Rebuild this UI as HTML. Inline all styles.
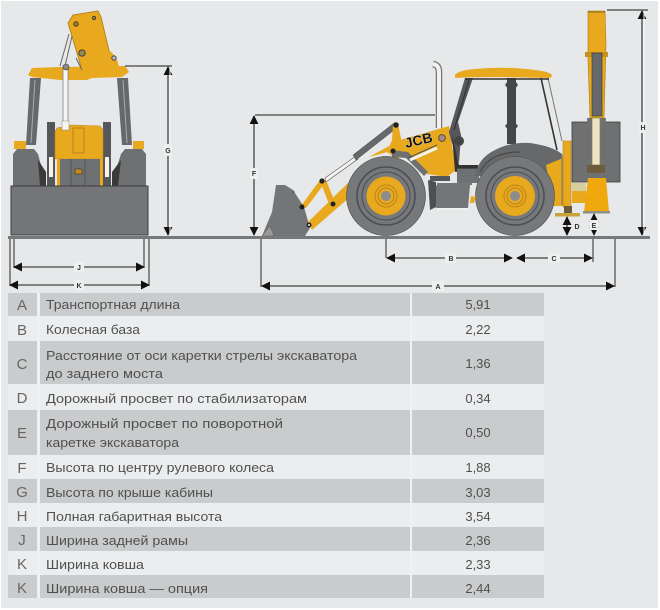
<!DOCTYPE html>
<html><head><meta charset="utf-8"><style>
html,body{margin:0;padding:0;background:#fff}
svg{display:block;filter:blur(.35px)}
text{font-family:"Liberation Sans",sans-serif}
.t{font-size:13px;fill:#505050}
.v{font-size:13px;fill:#505050;text-anchor:middle}
.l{font-size:15px;fill:#666;text-anchor:middle}
.d{font-size:7px;font-weight:bold;fill:#333;text-anchor:middle}
.dim{stroke:#444;stroke-width:1.3;fill:none}
.halo{fill:#eef0f0}
</style></head><body>
<svg width="660" height="610" viewBox="0 0 660 610" xmlns="http://www.w3.org/2000/svg">
<defs>
<marker id="a" viewBox="0 0 10 10" refX="9" refY="5" markerWidth="9" markerHeight="9" orient="auto-start-reverse" markerUnits="userSpaceOnUse"><path d="M0 0L10 5L0 10Z" fill="#111"/></marker>
</defs>
<rect x="1" y="1" width="657" height="607" fill="#e6e8e9"/>

<!-- table -->
<g fill="#ebedee">
<rect x="8" y="316" width="536" height="25"/><rect x="8" y="384" width="536" height="26"/><rect x="8" y="455" width="536" height="24"/><rect x="8" y="503" width="536" height="24"/><rect x="8" y="551" width="536" height="24"/>
</g>
<g fill="#c9cbcc">
<rect x="8" y="293" width="29" height="23"/><rect x="40" y="293" width="370" height="23"/><rect x="412" y="293" width="132" height="23"/>
<rect x="8" y="341" width="29" height="43"/><rect x="40" y="341" width="370" height="43"/><rect x="412" y="341" width="132" height="43"/>
<rect x="8" y="410" width="29" height="45"/><rect x="40" y="410" width="370" height="45"/><rect x="412" y="410" width="132" height="45"/>
<rect x="8" y="479" width="29" height="24"/><rect x="40" y="479" width="370" height="24"/><rect x="412" y="479" width="132" height="24"/>
<rect x="8" y="527" width="29" height="24"/><rect x="40" y="527" width="370" height="24"/><rect x="412" y="527" width="132" height="24"/>
<rect x="8" y="575" width="29" height="23"/><rect x="40" y="575" width="370" height="23"/><rect x="412" y="575" width="132" height="23"/>
</g>
<g fill="#eef0f1">
<rect x="37" y="293" width="3" height="305"/><rect x="410" y="293" width="2" height="305"/>
</g>
<text class="l" x="22" y="310">A</text>
<text class="l" x="22" y="335">B</text>
<text class="l" x="22" y="369">C</text>
<text class="l" x="22" y="403">D</text>
<text class="l" x="22" y="438">E</text>
<text class="l" x="22" y="473">F</text>
<text class="l" x="22" y="497">G</text>
<text class="l" x="22" y="521">H</text>
<text class="l" x="22" y="545">J</text>
<text class="l" x="22" y="569">K</text>
<text class="l" x="22" y="593">K</text>

<text class="t" x="46" y="309" textLength="134" lengthAdjust="spacingAndGlyphs">Транспортная длина</text>
<text class="t" x="46" y="334" textLength="94" lengthAdjust="spacingAndGlyphs">Колесная база</text>
<text class="t" x="46" y="360" textLength="311" lengthAdjust="spacingAndGlyphs">Расстояние от оси каретки стрелы экскаватора</text>
<text class="t" x="46" y="378" textLength="117" lengthAdjust="spacingAndGlyphs">до заднего моста</text>
<text class="t" x="46" y="403" textLength="261" lengthAdjust="spacingAndGlyphs">Дорожный просвет по стабилизаторам</text>
<text class="t" x="46" y="428" textLength="237" lengthAdjust="spacingAndGlyphs">Дорожный просвет по поворотной</text>
<text class="t" x="46" y="447" textLength="133" lengthAdjust="spacingAndGlyphs">каретке экскаватора</text>
<text class="t" x="46" y="472" textLength="228" lengthAdjust="spacingAndGlyphs">Высота по центру рулевого колеса</text>
<text class="t" x="46" y="497" textLength="167" lengthAdjust="spacingAndGlyphs">Высота по крыше кабины</text>
<text class="t" x="46" y="521" textLength="176" lengthAdjust="spacingAndGlyphs">Полная габаритная высота</text>
<text class="t" x="46" y="545" textLength="142" lengthAdjust="spacingAndGlyphs">Ширина задней рамы</text>
<text class="t" x="46" y="569" textLength="98" lengthAdjust="spacingAndGlyphs">Ширина ковша</text>
<text class="t" x="46" y="593" textLength="162" lengthAdjust="spacingAndGlyphs">Ширина ковша — опция</text>

<text class="v" x="478" y="309">5,91</text>
<text class="v" x="478" y="334">2,22</text>
<text class="v" x="478" y="368">1,36</text>
<text class="v" x="478" y="403">0,34</text>
<text class="v" x="478" y="437">0,50</text>
<text class="v" x="478" y="472">1,88</text>
<text class="v" x="478" y="497">3,03</text>
<text class="v" x="478" y="521">3,54</text>
<text class="v" x="478" y="545">2,36</text>
<text class="v" x="478" y="569">2,33</text>
<text class="v" x="478" y="593">2,44</text>

<!-- rear view -->
<g>
<path d="M30 78L26 145L36 145L41 78Z" fill="#66686a"/>
<path d="M128 78L132 145L122 145L117 78Z" fill="#66686a"/>
<path d="M35 80L31 143M123 80L127 143" stroke="#aaa" stroke-width="1"/>
<rect x="14" y="141" width="12" height="8" fill="#e8a91f"/>
<rect x="133" y="141" width="11" height="8" fill="#e8a91f"/>
<path d="M13 154L17 149L34 149L38 154L44 176L44 186L13 186Z" fill="#6f7072"/>
<path d="M146 154L142 149L125 149L121 154L114 176L114 186L146 186Z" fill="#6f7072"/>
<path d="M38 160L46 172L46 186L40 186Z" fill="#3a3a3a"/>
<path d="M121 160L112 172L112 186L118 186Z" fill="#3a3a3a"/>
<rect x="47" y="122" width="8" height="64" fill="#55575a"/>
<rect x="103" y="122" width="8" height="64" fill="#55575a"/>
<rect x="49" y="157" width="4" height="20" fill="#f4f2ea"/>
<rect x="105" y="157" width="4" height="20" fill="#f4f2ea"/>
<path d="M57 128L72 125L100 126L103 130L103 159L55 159L55 132Z" fill="#e8a91f" stroke="#b9841a" stroke-width=".6"/>
<rect x="73" y="128" width="11" height="25" fill="none" stroke="#b9841a"/>
<rect x="60" y="159" width="40" height="27" fill="#6f7072"/>
<rect x="57" y="159" width="3" height="27" fill="#e8a91f"/>
<rect x="100" y="159" width="3" height="27" fill="#e8a91f"/>
<rect x="75" y="169" width="7" height="5" fill="#c48a1c" stroke="#333" stroke-width=".6"/>
<path d="M71 159V186M85 159V186" stroke="#555"/>
<path d="M68 23L73 15L98 11L101 17L113 67L82 70Z" fill="#e8a91f" stroke="#a97a16" stroke-width=".8"/>
<path d="M109 50L116 57L119 66L110 68Z" fill="#e8a91f"/>
<path d="M28 75L32 68L60 67L125 66L129 72L122 77L92 78L87 80L60 80L32 77Z" fill="#e8a91f"/>
<path d="M69 34L60 66M72 36L65 66M76 58L82 70" stroke="#666" stroke-width="1" fill="none"/>
<rect x="63" y="66" width="5" height="60" fill="#f5f5f3" stroke="#777" stroke-width=".7"/>
<rect x="62" y="121" width="7" height="9" fill="#f5f5f3" stroke="#888" stroke-width=".5"/>
<circle cx="66" cy="67" r="3" fill="#888" stroke="#444" stroke-width=".6"/>
<circle cx="76" cy="24" r="2.3" fill="#9a7a25" stroke="#333" stroke-width=".8"/>
<circle cx="94" cy="18" r="1.8" fill="#9a7a25" stroke="#333" stroke-width=".8"/>
<circle cx="82" cy="53" r="3.2" fill="#9a8a55" stroke="#333" stroke-width=".9"/>
<circle cx="114" cy="58" r="2.2" fill="#bbb" stroke="#333" stroke-width=".8"/>
<rect x="11" y="186" width="137" height="49" fill="#747577" stroke="#3d3d3e" stroke-width="1"/>
</g>

<!-- side view: loader -->
<g>
<path d="M276 185L285 185L293 190L304 207L310 228L305 236L262 236L272 212Z" fill="#747577"/>
<path d="M262 236L270 226L274 236Z" fill="#9a9a9a" stroke="#555" stroke-width=".5"/>
<path d="M308 222L348 183L350 197L312 230Z" fill="#e8a91f"/>
<path d="M301 206L320 180L325 183L306 208Z" fill="#e8a91f"/>
<path d="M320 181L329 204L335 202L326 180Z" fill="#e8a91f"/>
<path d="M325 178L356 156L358 159L326 182Z" fill="#f2f2ef" stroke="#555" stroke-width=".6"/>
<path d="M353 155L394 123L398 127L356 160Z" fill="#66686a" stroke="#333" stroke-width=".4"/>
<path d="M393 123L398 124L403 148L398 160L387 152L392 140Z" fill="#e8a91f"/>
<path d="M369 157L400 140L449 126L456 170L447 177L427 174L412 156L395 150Z" fill="#e8a91f"/>
<path d="M392 150L408 152L428 172L424 176L406 158L392 157Z" fill="#6f7072"/>
<path d="M410 160L437 148" stroke="#f4f2ea" stroke-width="3"/>
<path d="M408 158L437 145" stroke="#555" stroke-width="1"/>
<circle cx="442" cy="138" r="3.4" fill="#a88" stroke="#553" stroke-width="1"/>
<g fill="#222"><circle cx="396" cy="125" r="2.8"/><circle cx="322" cy="181" r="2.6"/><circle cx="333" cy="204" r="2.5"/><circle cx="302" cy="207" r="2.5"/><circle cx="309" cy="225" r="2.5"/><circle cx="393" cy="151" r="2.5"/></g>
<circle cx="309" cy="225" r="1.1" fill="#ccd"/>
<circle cx="293" cy="192" r="1.5" fill="#666"/>
<text x="0" y="0" transform="translate(406 148) rotate(-13)" font-size="14" font-weight="bold" fill="#111" stroke="#fff" stroke-width=".5" style="font-family:'Liberation Sans',sans-serif;paint-order:stroke">JCB</text>
<path d="M437 185H470L468 208H437Q431 206 431 190Z" fill="#747577"/>
<path d="M437 209H468" stroke="#f4f4f4" stroke-width="1.5"/>
<path d="M437 184H472" stroke="#333" stroke-width="1.2"/>
<path d="M428 180L436 182L436 207L430 210Z" fill="#4e4f51"/>
<path d="M430 176H450V181H430Z" fill="#55575a"/>
<!-- front wheel -->
<circle cx="386" cy="196" r="39.5" fill="#77787a"/>
<circle cx="386" cy="196" r="39.5" fill="none" stroke="#555" stroke-width=".7"/>
<circle cx="386" cy="196" r="29" fill="none" stroke="#4c4d57" stroke-width="1.6"/>
<circle cx="386" cy="196" r="24" fill="none" stroke="#4c4d57" stroke-width="1"/>
<circle cx="386" cy="196" r="19.5" fill="#e8a91f"/>
<circle cx="386" cy="196" r="11" fill="none" stroke="#b9841a" stroke-width="1"/>
<circle cx="386" cy="196" r="8" fill="#e8a91f" stroke="#b9841a"/>
<circle cx="386" cy="196" r="5" fill="#8b8c8e"/>
</g>

<!-- exhaust -->
<path d="M439 128V72Q439 65 433 64" fill="none" stroke="#777" stroke-width="6.5"/>
<path d="M439 128V72Q439 65 433 64" fill="none" stroke="#f1f1ef" stroke-width="4"/>

<!-- cab -->
<g>
<path d="M465 78L473 78L458 122L461 135L459 163L451 140L449 132Z" fill="#55575a"/>
<path d="M469 80L454 130" stroke="#333" stroke-width="1.2"/>
<circle cx="459" cy="141" r="5" fill="#444"/>
<path d="M452 135L459 165L478 165L478 169L455 172Z" fill="#333"/>
<rect x="457" y="168" width="22" height="15" fill="#6f7072"/>
<path d="M456 168H478" stroke="#333" stroke-width="1.2"/>
<rect x="507" y="78" width="9" height="66" fill="#44464a"/>
<path d="M505 85L509 79H514L518 85L514 90H509Z" fill="#44464a"/>
<path d="M505 126L509 121H514L518 126L514 131H509Z" fill="#44464a"/>
<path d="M541 78L557 150" stroke="#333" stroke-width="1.6"/>
<path d="M548 78L562 141" stroke="#777" stroke-width="1"/>
<path d="M465 79H549" stroke="#333" stroke-width="1.5"/>
<path d="M455 75Q459 70 475 69Q503 66 535 70Q552 72 552 76L550 78L500 77Q470 77 455 78Z" fill="#e8a91f"/>
<!-- fender -->
<path d="M475 176Q478 158 495 150Q510 142 530 143Q552 146 562 154L562 165L548 176Z" fill="#66686a"/>
<path d="M480 172Q490 152 520 152" stroke="#444" stroke-width="1" fill="none"/>
<!-- rear structures -->
<path d="M546 165L563 158L563 206L553 206Z" fill="#e8a91f"/>
<path d="M562 155V205" stroke="#777"/>
<rect x="572" y="183" width="14" height="20" fill="#e8a91f"/>
<circle cx="515" cy="196" r="39.5" fill="#77787a"/>
<circle cx="515" cy="196" r="39.5" fill="none" stroke="#555" stroke-width=".7"/>
<circle cx="515" cy="196" r="29" fill="none" stroke="#4c4d57" stroke-width="1.6"/>
<circle cx="515" cy="196" r="24" fill="none" stroke="#4c4d57" stroke-width="1"/>
<circle cx="515" cy="196" r="20" fill="#e8a91f"/>
<circle cx="515" cy="196" r="11" fill="none" stroke="#b9841a"/>
<circle cx="515" cy="196" r="8" fill="#e8a91f" stroke="#b9841a"/>
<circle cx="515" cy="196" r="5" fill="#8b8c8e"/>
<path d="M471 196L476 197L474 203L470 203Z" fill="#e8a91f"/>
</g>

<!-- backhoe -->
<g>
<rect x="572" y="122" width="48" height="60" fill="#6f7072" stroke="#3d3d3e" stroke-width=".8"/>
<path d="M588 11H605L606 44L604 118H590L588 60Z" fill="#e8a91f" stroke="#a97a16" stroke-width=".6"/>
<path d="M588 12H605" stroke="#8a6a15" stroke-width="1"/>
<path d="M585 52H608V57H585Z" fill="#c98f1c"/>
<rect x="592" y="53" width="10" height="63" fill="#66686a" stroke="#333" stroke-width=".6"/>
<path d="M587 118L590 158L586 180H607L603 158L606 118Z" fill="#6f7072"/>
<rect x="592" y="118" width="8" height="47" fill="#ece4c4" stroke="#8a7a4a" stroke-width=".7"/>
<rect x="587" y="165" width="18" height="8" fill="#6b5d3c"/>
<path d="M588 178H606L609 212H584Z" fill="#f0a80f"/>
<rect x="583" y="211" width="27" height="2.5" fill="#8f8f88"/>
<rect x="563" y="141" width="8" height="66" fill="#e8a91f" stroke="#a97a16" stroke-width=".5"/>
<rect x="564" y="206" width="8" height="8" fill="#6b5d3c"/>
<rect x="555" y="213" width="25" height="3.5" fill="#c9a23a"/>
<rect x="572" y="183" width="14" height="8" fill="#d8cf9e"/>
</g>

<!-- ground -->
<rect x="8" y="236" width="642" height="3" fill="#77787a"/>

<!-- dimension lines -->
<g class="dim">
<path d="M125 66H172"/>
<path d="M168 67V235" marker-start="url(#a)" marker-end="url(#a)"/>
<path d="M255 115H435"/>
<path d="M254 116V235" marker-start="url(#a)" marker-end="url(#a)"/>
<path d="M607 10H648"/>
<path d="M642 11V235" marker-start="url(#a)" marker-end="url(#a)"/>
<path d="M567 217V235" marker-start="url(#a)" marker-end="url(#a)"/>
<path d="M594 214V235" marker-start="url(#a)" marker-end="url(#a)"/>
<path d="M10 239V286M14 239V268M144 239V268M149 239V286" stroke="#555"/>
<path d="M14 267H144" marker-start="url(#a)" marker-end="url(#a)"/>
<path d="M10 285H149" marker-start="url(#a)" marker-end="url(#a)"/>
<path d="M386 239V258M593 239V262M261 239V287M615 239V287" stroke="#555"/>
<path d="M387 258H512" marker-start="url(#a)" marker-end="url(#a)"/>
<path d="M517 258H592" marker-start="url(#a)" marker-end="url(#a)"/>
<path d="M262 286H614" marker-start="url(#a)" marker-end="url(#a)"/>
</g>
<path d="M170 68V234M644 12V234" stroke="#fafafa" stroke-width="1"/>

<!-- dim label halos -->
<g class="halo">
<rect x="164" y="144" width="8" height="12"/>
<rect x="250" y="168" width="8" height="11"/>
<rect x="639" y="122" width="7" height="11"/>
<rect x="74" y="262" width="10" height="10"/>
<rect x="74" y="280" width="10" height="10"/>
<rect x="445" y="253" width="11" height="10"/>
<rect x="548" y="253" width="12" height="10"/>
<rect x="432" y="281" width="12" height="10"/>
<rect x="590" y="220" width="8" height="10"/>
</g>
<text class="d" x="168" y="153">G</text>
<text class="d" x="254" y="176">F</text>
<text class="d" x="643" y="130">H</text>
<text class="d" x="79" y="270">J</text>
<text class="d" x="79" y="288">K</text>
<text class="d" x="451" y="261">B</text>
<text class="d" x="554" y="261">C</text>
<text class="d" x="438" y="289">A</text>
<text class="d" x="577" y="229">D</text>
<text class="d" x="594" y="228">E</text>
</svg>
</body></html>
